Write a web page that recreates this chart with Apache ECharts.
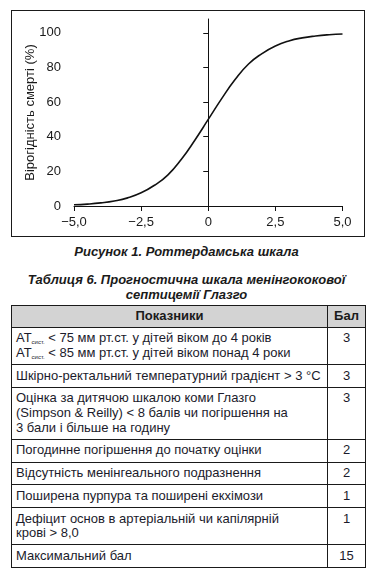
<!DOCTYPE html>
<html><head><meta charset="utf-8">
<script src="https://cdn.jsdelivr.net/npm/echarts@6/dist/echarts.min.js"></script>
<style>
html,body{margin:0;padding:0;background:#fff;}
body{width:373px;height:575px;position:relative;overflow:hidden;font-family:"Liberation Sans",Arial,sans-serif;color:#1b1b2b;}
#frame{position:absolute;left:11px;top:10px;width:354px;height:227px;box-sizing:border-box;border:1.5px solid #1a1a1a;}
#chart{position:absolute;left:0;top:0;width:373px;height:240px;}
.cap{position:absolute;left:0;width:373px;text-align:center;font-weight:bold;font-style:italic;font-size:13px;line-height:14.5px;color:#1a1a1a;}
table{position:absolute;left:11px;top:305px;width:354px;border-collapse:collapse;font-size:13px;line-height:14.7px;table-layout:fixed;}
td,th{border:1px solid #1a1a1a;padding:3.5px 4px;vertical-align:top;white-space:nowrap;overflow:hidden;}
th{background:#d3d3d3;font-weight:bold;padding:3px 4px;text-align:center;color:#1a1a1a;}
td.n{text-align:center;padding-left:0;padding-right:0;}
sub{font-size:6px;line-height:0;vertical-align:-2px;}
</style></head>
<body>
<div id="frame"></div>
<div id="chart"></div>
<div class="cap" style="top:244px;line-height:15px;">Рисунок 1. Роттердамська шкала</div>
<div class="cap" style="top:273px;">Таблиця 6. Прогностична шкала менінгококової<br>септицемії Глазго</div>
<table id="tbl"><colgroup><col style="width:316px"><col style="width:38px"></colgroup><tbody></tbody></table>
<script>
// Chart data
const xValues = [-5, -4.5, -4, -3.5, -3, -2.5, -2, -1.5, -1, -0.5, 0, 0.5, 1, 1.5, 2, 2.5, 3, 3.5, 4, 4.5, 5];
const deathProbability = [0.7, 1.1, 1.8, 2.9, 4.7, 7.6, 12, 18, 27, 38, 50, 62, 73, 82, 88, 92.4, 95.3, 97.1, 98.2, 98.9, 99.3];
const xTickValues = [-5, -2.5, 0, 2.5, 5];
const xTickLabels = ['\u22125,0', '\u22122,5', '0', '2,5', '5,0'];
const yTickValues = [0, 20, 40, 60, 80, 100];
const yAxisTitle = 'Вірогідність смерті (%)';

// Table data
const tableHeader = ['Показники', 'Бал'];
const indicators = [
  'АТ<sub>сист.</sub> &lt; 75 мм рт.ст. у дітей віком до 4 років<br>АТ<sub>сист.</sub> &lt; 85 мм рт.ст. у дітей віком понад 4 роки',
  'Шкірно-ректальний температурний градієнт &gt; 3 °C',
  'Оцінка за дитячою шкалою коми Глазго<br>(Simpson &amp; Reilly) &lt; 8 балів чи погіршення на<br>3 бали і більше на годину',
  'Погодинне погіршення до початку оцінки',
  'Відсутність менінгеального подразнення',
  'Поширена пурпура та поширені екхімози',
  'Дефіцит основ в артеріальній чи капілярній<br>крові &gt; 8,0',
  'Максимальний бал'
];
const scores = [3, 3, 3, 2, 2, 1, 1, 15];

const tbody = document.querySelector('#tbl tbody');
let html = '<tr><th>' + tableHeader[0] + '</th><th>' + tableHeader[1] + '</th></tr>';
indicators.forEach((t, i) => { html += '<tr><td>' + t + '</td><td class="n">' + scores[i] + '</td></tr>'; });
tbody.innerHTML = html;

const chart = echarts.init(document.getElementById('chart'), null, {renderer: 'canvas'});
const txt = {color: '#1a1a1a', fontSize: 13, fontFamily: '"Liberation Sans", Arial, sans-serif'};
chart.setOption({
  animation: false,
  grid: {left: 74, right: 30.5, top: 19, bottom: 34},
  xAxis: {
    type: 'value', min: -5, max: 5, interval: 2.5,
    axisLine: {lineStyle: {color: '#111', width: 1}},
    axisTick: {show: true, length: 5, lineStyle: {color: '#111'}},
    axisLabel: Object.assign({margin: 10, formatter: v => { const k = xTickValues.indexOf(v); return k >= 0 ? xTickLabels[k] : ''; }}, txt),
    splitLine: {show: false}
  },
  yAxis: {
    type: 'value', min: 0, max: 108, interval: 20,
    name: yAxisTitle, nameLocation: 'middle', nameGap: 37, nameRotate: 90,
    nameMoveOverlap: false,
    nameTextStyle: txt,
    axisLine: {show: true, lineStyle: {color: '#111', width: 1}},
    axisTick: {show: true, length: 5, lineStyle: {color: '#111'}, customValues: yTickValues},
    axisLabel: Object.assign({margin: 13, customValues: yTickValues}, txt),
    splitLine: {show: false}
  },
  series: [{
    type: 'line', smooth: true, symbol: 'none',
    data: xValues.map((x, i) => [x, deathProbability[i]]),
    lineStyle: {color: '#111', width: 1.6}
  }]
});
</script>
</body></html>
